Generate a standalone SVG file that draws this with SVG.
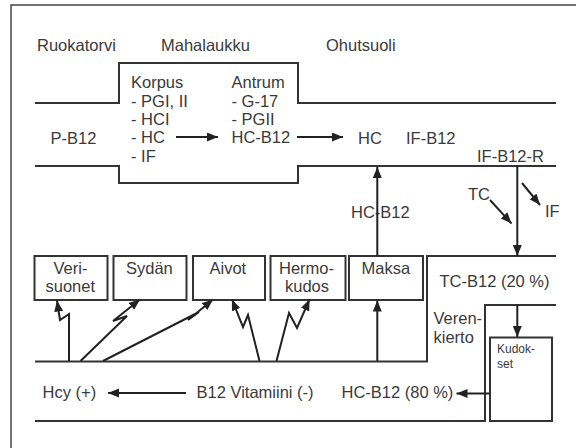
<svg xmlns="http://www.w3.org/2000/svg" width="576" height="448" viewBox="0 0 576 448">
<defs>
<style>
text{font-family:"Liberation Sans",Arial,Helvetica,sans-serif;font-size:16.5px;fill:#3a3a3a}
.sm{font-size:12px}
.ln{fill:none;stroke:#333;stroke-width:2}
.box{fill:#fff;stroke:#333;stroke-width:2}
.ar{fill:none;stroke:#222;stroke-width:2;marker-end:url(#ah)}
</style>
<marker id="ah" markerUnits="userSpaceOnUse" markerWidth="12" markerHeight="10" refX="11" refY="4.5" orient="auto">
<path d="M0,0 L11,4.5 L0,9 z" fill="#222"/>
</marker>
</defs>
<rect width="576" height="448" fill="#fff"/>
<path d="M11,448 V5 H576" fill="none" stroke="#444" stroke-width="1.5"/>

<g id="tract">
<path class="ln" d="M35,103 H119 V63 H298 V103 H556"/>
<path class="ln" d="M35,166 H119 V183 H298 V166 H556"/>
<path class="ln" d="M556,256 H427 V361.5 H35"/>
<path class="ln" d="M556,305 H485 V421 H35"/>
<text x="37" y="50.5">Ruokatorvi</text>
<text x="161" y="50.5">Mahalaukku</text>
<text x="326" y="50.5">Ohutsuoli</text>
<text x="50.5" y="144">P-B12</text>
<text x="358" y="143.5">HC</text>
<text x="406" y="143.5">IF-B12</text>
<text x="477" y="161.5">IF-B12-R</text>
<text x="351" y="218">HC-B12</text>
<text x="468" y="200">TC</text>
<text x="545" y="216.5">IF</text>
<text x="439.5" y="287">TC-B12 (20 %)</text>
<text x="433.5" y="324">Veren-</text>
<text x="433.5" y="342.5">kierto</text>
<text x="42.5" y="397.5">Hcy (+)</text>
<text x="196.5" y="397.5">B12 Vitamiini (-)</text>
<text x="341.5" y="397.5">HC-B12 (80 %)</text>
</g>

<g id="korpus">
<text x="131" y="88.3">Korpus</text>
<text x="131" y="106.6">- PGI, II</text>
<text x="131" y="125">- HCI</text>
<text x="131" y="143.3">- HC</text>
<text x="131" y="161.6">- IF</text>
</g>
<g id="antrum">
<text x="231.5" y="88.3">Antrum</text>
<text x="231.5" y="106.6">- G-17</text>
<text x="231.5" y="125">- PGII</text>
<text x="231.5" y="143.3">HC-B12</text>
</g>

<g id="verisuonet">
<rect class="box" x="34.5" y="256" width="73" height="44"/>
<text x="53.5" y="274">Veri-</text>
<text x="45.5" y="292.3">suonet</text>
</g>
<g id="sydan">
<rect class="box" x="113.5" y="256" width="73" height="44"/>
<text x="126" y="274">Sydän</text>
</g>
<g id="aivot">
<rect class="box" x="193" y="256" width="72" height="44"/>
<text x="209.5" y="274">Aivot</text>
</g>
<g id="hermokudos">
<rect class="box" x="270.5" y="256" width="75" height="44"/>
<text x="279" y="274">Hermo-</text>
<text x="285" y="292">kudos</text>
</g>
<g id="maksa">
<rect class="box" x="349" y="256" width="74" height="44"/>
<text x="361.5" y="274">Maksa</text>
</g>
<g id="kudokset">
<rect class="box" x="490" y="337.5" width="62" height="83.5"/>
<text class="sm" x="497" y="353">Kudok-</text>
<text class="sm" x="497" y="367.5">set</text>
</g>

<g id="connectors">
<line class="ar" x1="176" y1="137" x2="218" y2="137"/>
<line class="ar" x1="297" y1="137" x2="343" y2="137"/>
<line class="ar" x1="377.3" y1="256" x2="377.3" y2="167"/>
<line class="ar" x1="517.3" y1="166" x2="517.3" y2="256"/>
<line class="ar" x1="490" y1="200" x2="511.5" y2="223.5"/>
<line class="ar" x1="522" y1="183" x2="540" y2="205"/>
<line class="ar" x1="517.3" y1="305" x2="517.3" y2="337"/>
<line class="ar" x1="490" y1="393.5" x2="456.5" y2="393.5"/>
<line class="ar" x1="186" y1="393" x2="108" y2="393"/>
<line class="ar" x1="377.3" y1="361" x2="377.3" y2="300.5"/>
<polyline class="ar" points="69,361 69,314 60,320 57,300.5"/>
<polyline class="ar" points="80.5,361 127,316 113,321 140,299.5"/>
<polyline class="ar" points="103,361 199,312 188,320 213,299.5"/>
<polyline class="ar" points="259.5,361 248,315 243,327 232,299.5"/>
<polyline class="ar" points="276.5,361 289,313 297,328 309.5,299.5"/>
</g>
</svg>
